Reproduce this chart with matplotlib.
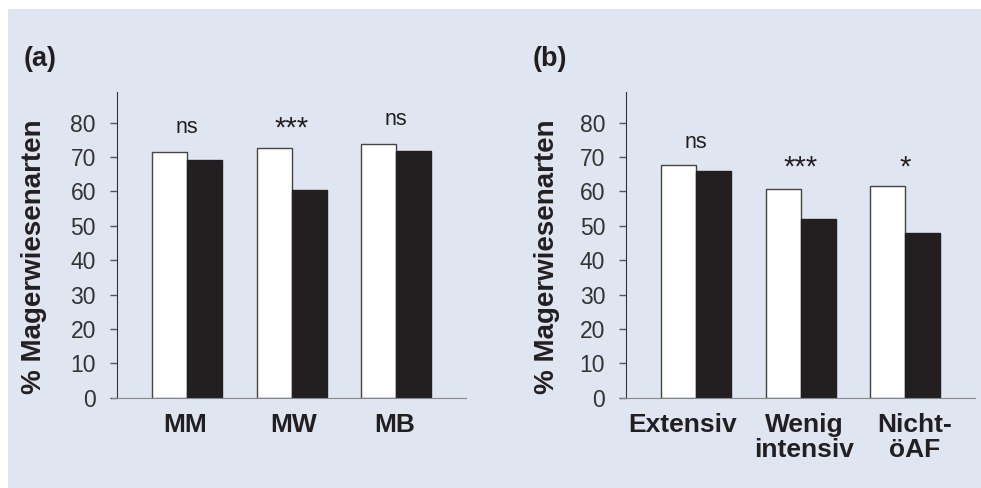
import matplotlib.pyplot as plt
from matplotlib.patches import Rectangle
import numpy as np

plt.rcParams['font.family'] = ['Liberation Sans', 'DejaVu Sans']

cats_a = ["MM", "MW", "MB"]
white_a = [71.5, 72.6, 73.9]
black_a = [69.2, 60.5, 71.8]
sig_a = ["ns", "***", "ns"]
sig_a_y = [78.6, 78.3, 81.0]

cats_b = ["Extensiv", "Wenig\nintensiv", "Nicht-\nöAF"]
white_b = [67.8, 60.8, 61.6]
black_b = [66.0, 52.0, 47.9]
sig_b = ["ns", "***", "*"]
sig_b_y = [74.3, 67.0, 67.0]

bg = "#dfe6f2"
W, H = 981, 488
fig = plt.figure(figsize=(W / 100, H / 100), dpi=100)
fig.patches.append(Rectangle((8 / W, 0), 1, 1 - 9 / H, transform=fig.transFigure,
                             facecolor=bg, edgecolor="none", zorder=-10))


def panel(left_px, cats, white, black, sig, sig_y, lab_x, lab_shift):
    bottom = 1 - 397.7 / H
    top = 1 - 92.3 / H
    width = 354 / W
    ax = fig.add_axes([left_px / W, bottom, width, top - bottom])
    ax.set_facecolor("none")
    x = np.arange(len(cats))
    bw = 0.335
    ax.bar(x - bw / 2, white, bw, color="white", edgecolor="#444444", linewidth=1.0)
    ax.bar(x + bw / 2, black, bw, color="#231f20", edgecolor="#231f20", linewidth=1.0)
    for xi, s, y in zip(x, sig, sig_y):
        ax.text(xi, y, s, ha="center", va="center", fontsize=15.5 if s == "ns" else 21,
                color="#231f20")
    ax.set_xlim(-0.72, 2.665)
    ax.set_ylim(0, 88.8)
    ax.set_yticks(range(0, 81, 10))
    ax.tick_params(axis="y", direction="out", length=5, width=1, color="#555555",
                   labelsize=16.5, labelcolor="#333333", pad=10)
    # labels sit slightly off the group centres in the original
    ax.set_xticks(x + np.array(lab_shift))
    ax.set_xticklabels(cats, fontsize=19, fontweight="bold", color="#231f20", linespacing=1.03)
    ax.tick_params(axis="x", length=0, pad=11)
    for s in ["top", "right"]:
        ax.spines[s].set_visible(False)
    ax.spines["left"].set_position(("data", -0.672))
    ax.spines["left"].set_color("#333333")
    ax.spines["bottom"].set_color("#888888")
    ax.set_ylabel("% Magerwiesenarten", fontsize=20, fontweight="bold", color="#231f20")
    ax.yaxis.set_label_coords(lab_x, 0.462)
    return ax


ax1 = panel(111.7, cats_a, white_a, black_a, sig_a, sig_a_y, -0.182, [-0.015, 0.015, -0.015])
ax2 = panel(621, cats_b, white_b, black_b, sig_b, sig_b_y, -0.172, [-0.134, 0.03, 0.09])
fig.text(24 / W, 1 - 59 / H, "(a)", fontsize=19.5, fontweight="bold", color="#231f20", va="center")
fig.text(533 / W, 1 - 59 / H, "(b)", fontsize=19.5, fontweight="bold", color="#231f20", va="center")

fig.savefig("out.png", dpi=100)
